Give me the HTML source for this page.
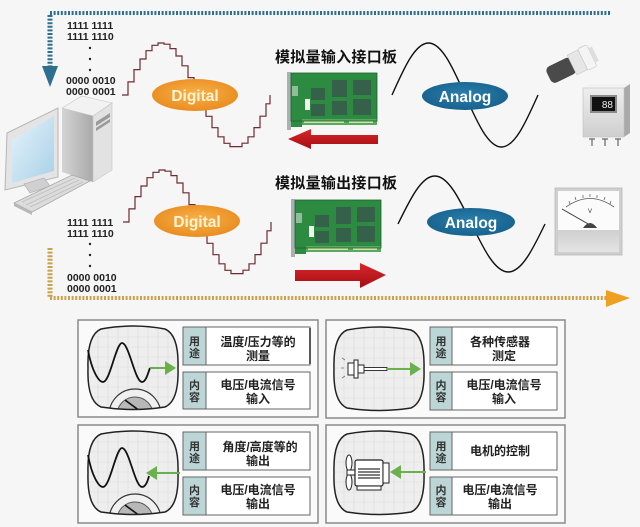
<!DOCTYPE html>
<html>
<head>
<meta charset="utf-8">
<style>
html,body{margin:0;padding:0;background:#f6f6f6;}
svg{display:block;}
text{font-family:"Liberation Sans","Noto Sans CJK SC",sans-serif;}
.cn{font-family:"Liberation Sans","Noto Sans CJK SC",sans-serif;font-weight:700;}
.bin{font-family:"Liberation Sans",sans-serif;font-size:10.5px;font-weight:700;fill:#222;}
</style>
</head>
<body>
<svg width="640" height="527" viewBox="0 0 640 527" xmlns="http://www.w3.org/2000/svg">
<defs>
  <radialGradient id="orange" cx="50%" cy="45%" r="60%">
    <stop offset="0" stop-color="#f7b24a"/>
    <stop offset="1" stop-color="#e8891c"/>
  </radialGradient>
  <radialGradient id="blue" cx="50%" cy="45%" r="60%">
    <stop offset="0" stop-color="#2a7fae"/>
    <stop offset="1" stop-color="#175f8a"/>
  </radialGradient>
  <linearGradient id="screen" x1="0" y1="0" x2="1" y2="1">
    <stop offset="0" stop-color="#e6f3fa"/>
    <stop offset="1" stop-color="#a8d0e8"/>
  </linearGradient>
  <linearGradient id="towerL" x1="0" y1="0" x2="1" y2="0">
    <stop offset="0" stop-color="#d4d4d4"/>
    <stop offset="1" stop-color="#a9a9a9"/>
  </linearGradient>
  <linearGradient id="boxG" x1="0" y1="0" x2="0" y2="1">
    <stop offset="0" stop-color="#eeeeee"/>
    <stop offset="1" stop-color="#cfcfcf"/>
  </linearGradient>
  <linearGradient id="redG" x1="0" y1="0" x2="0" y2="1">
    <stop offset="0" stop-color="#d8262b"/>
    <stop offset="1" stop-color="#a50f14"/>
  </linearGradient>
  <linearGradient id="meterG" x1="0" y1="0" x2="0" y2="1">
    <stop offset="0" stop-color="#cfcfcf"/>
    <stop offset="1" stop-color="#e4e4e4"/>
  </linearGradient>
  <path id="blob" d="M13,2 Q45,-4 77,2 Q91,8 90,41 Q91,74 77,80 Q45,85 13,80 Q-1,74 0,41 Q-1,8 13,2 Z"/>
  <clipPath id="blobClip"><use href="#blob"/></clipPath>
  <g id="pcb">
    <rect x="0" y="0" width="4" height="58" fill="#a8b0b0"/>
    <rect x="4" y="1" width="86" height="48" fill="#2c8a41"/>
    <rect x="15" y="47" width="75" height="6" fill="#5aa860"/>
    <rect x="17" y="49" width="40" height="2" fill="#cfe3a8"/>
    <rect x="62" y="49" width="24" height="2" fill="#cfe3a8"/>
    <rect x="4" y="49" width="11" height="6" fill="#2c8a41"/>
    <rect x="5" y="14" width="6" height="10" fill="#8fbf98"/>
    <rect x="24" y="16" width="14" height="12" fill="#35604a"/>
    <rect x="24" y="32" width="14" height="12" fill="#35604a"/>
    <rect x="45" y="8" width="15" height="17" fill="#35604a"/>
    <rect x="45" y="29" width="15" height="14" fill="#35604a"/>
    <rect x="66" y="8" width="18" height="15" fill="#35604a"/>
    <rect x="66" y="27" width="18" height="16" fill="#35604a"/>
    <rect x="18" y="27" width="5" height="11" fill="#eef5e8"/>
    <rect x="4" y="1" width="86" height="48" fill="none" stroke="#1c6330" stroke-width="0.8"/>
  </g>
  <g id="gauge">
    <circle cx="47" cy="88" r="26" fill="#f0f0f0" stroke="#333" stroke-width="1.2"/>
    <circle cx="47" cy="88" r="18" fill="#b8b8b8" stroke="#555" stroke-width="1"/>
    <line x1="37" y1="73" x2="52" y2="84" stroke="#111" stroke-width="1.6"/>
  </g>
  <g id="grid" stroke="#dcdcdc" stroke-width="0.6">
    <line x1="0" y1="10" x2="90" y2="10"/><line x1="0" y1="20" x2="90" y2="20"/>
    <line x1="0" y1="30" x2="90" y2="30"/><line x1="0" y1="40" x2="90" y2="40"/>
    <line x1="0" y1="50" x2="90" y2="50"/><line x1="0" y1="60" x2="90" y2="60"/>
    <line x1="0" y1="70" x2="90" y2="70"/>
    <line x1="10" y1="0" x2="10" y2="85"/><line x1="20" y1="0" x2="20" y2="85"/>
    <line x1="30" y1="0" x2="30" y2="85"/><line x1="40" y1="0" x2="40" y2="85"/>
    <line x1="50" y1="0" x2="50" y2="85"/><line x1="60" y1="0" x2="60" y2="85"/>
    <line x1="70" y1="0" x2="70" y2="85"/><line x1="80" y1="0" x2="80" y2="85"/>
  </g>
</defs>

<rect x="0" y="0" width="640" height="527" fill="#f6f6f6"/>

<!-- top teal dotted connector -->
<path d="M50,13 H610" stroke="#2c6f8f" stroke-width="4" stroke-dasharray="2 1.6" fill="none"/>
<path d="M50,15 V66" stroke="#2c6f8f" stroke-width="5" stroke-dasharray="2 1.6" fill="none"/>
<polygon points="42,66 58,66 50,87" fill="#2c6f8f"/>

<!-- bottom golden dotted connector -->
<path d="M50,248 V298" stroke="#c9a24a" stroke-width="5" stroke-dasharray="2 1.6" fill="none"/>
<path d="M50,298 H608" stroke="#c9a24a" stroke-width="4" stroke-dasharray="2 1.6" fill="none"/>
<polygon points="606,290 630,298 606,307" fill="#f0a020"/>

<!-- binary top -->
<text class="bin" x="67" y="29">1111 1111</text>
<text class="bin" x="67" y="40">1111 1110</text>
<circle cx="90" cy="48" r="1.2" fill="#222"/>
<circle cx="90" cy="59" r="1.2" fill="#222"/>
<circle cx="90" cy="70" r="1.2" fill="#222"/>
<text class="bin" x="66" y="84">0000 0010</text>
<text class="bin" x="66" y="95">0000 0001</text>

<!-- binary bottom -->
<text class="bin" x="67" y="226">1111 1111</text>
<text class="bin" x="67" y="237">1111 1110</text>
<circle cx="90" cy="244" r="1.2" fill="#222"/>
<circle cx="90" cy="255" r="1.2" fill="#222"/>
<circle cx="90" cy="266" r="1.2" fill="#222"/>
<text class="bin" x="67" y="281">0000 0010</text>
<text class="bin" x="67" y="292">0000 0001</text>

<!-- stair sine waves -->
<path id="stair" d="M122,95 H128 V81.9 H134 V69.6 H140 V59 H146 V50.7 H152 V45.3 H158 V43 H164 V44.2 H170 V48.6 H176 V56 H182 V65.8 H188 V77.6 H194 V90.6 H200 V103.8 H206 V116.3 H212 V127.7 H218 V136.8 H224 V143.3 H230 V146.6 H236 V146.6 H242 V143.2 H248 V136.8 H254 V127.6 H260 V116.2 H266 V103.8 H270 V95" fill="none" stroke="#6e2b33" stroke-width="1.2"/>
<use href="#stair" transform="translate(1,127)"/>

<!-- Digital ellipses -->
<ellipse cx="195" cy="95" rx="43" ry="16" fill="url(#orange)"/>
<text x="195" y="101" text-anchor="middle" font-size="15.5" font-weight="700" fill="#fff4d6">Digital</text>
<ellipse cx="197" cy="221" rx="43" ry="16" fill="url(#orange)"/>
<text x="197" y="227" text-anchor="middle" font-size="15.5" font-weight="700" fill="#fff4d6">Digital</text>

<!-- analog curves -->
<path d="M392,95 C404.2,67.7 415.2,43 428.5,43 C441.8,43 452.8,67.7 465,95 C477.2,122.3 488.2,147 501.5,147 C514.8,147 525.8,122.3 538,95" fill="none" stroke="#111" stroke-width="1.4"/>
<path d="M398,224 C410.3,198.8 421.5,176 434.8,176 C448.2,176 459.4,198.8 471.5,224 C483.8,249.2 495,272 508.3,272 C521.6,272 532.8,249.2 545,224" fill="none" stroke="#111" stroke-width="1.4"/>
<ellipse cx="465" cy="96" rx="43" ry="14" fill="url(#blue)"/>
<text x="465" y="102" text-anchor="middle" font-size="15.5" font-weight="700" fill="#ffffff">Analog</text>
<ellipse cx="471" cy="222" rx="44" ry="14" fill="url(#blue)"/>
<text x="471" y="228" text-anchor="middle" font-size="15.5" font-weight="700" fill="#ffffff">Analog</text>

<!-- Chinese labels -->
<text class="cn" x="275" y="62" font-size="15" fill="#111" textLength="122">模拟量输入接口板</text>
<text class="cn" x="275" y="188" font-size="15" fill="#111" textLength="122">模拟量输出接口板</text>

<!-- boards -->
<use href="#pcb" transform="translate(287,72)"/>
<use href="#pcb" transform="translate(291,199)"/>

<!-- red arrows -->
<polygon points="288,139 311,129 311,135 378,135 378,144 311,144 311,149" fill="url(#redG)"/>
<polygon points="295,270 360,270 360,263 386,275 360,288 360,281 295,281" fill="url(#redG)"/>

<!-- computer -->
<polygon points="7,133 58,108 58,177 5,190" fill="#e4e4e4" stroke="#b5b5b5" stroke-width="1"/>
<polygon points="12,140 54,116 54,171 12,183" fill="url(#screen)"/>
<polygon points="24,184 44,178 50,186 30,193" fill="#d0d0d0" stroke="#aaa" stroke-width="0.6"/>
<polygon points="62,108 82,96 112,103 93,116" fill="#f2f2f2" stroke="#c8c8c8" stroke-width="0.6"/>
<polygon points="62,108 93,116 93,182 62,172" fill="url(#towerL)"/>
<polygon points="93,116 112,103 112,170 93,182" fill="#e2e2e2" stroke="#c4c4c4" stroke-width="0.6"/>
<polygon points="96,122 110,113 110,117 96,126" fill="#9a9a9a"/>
<polygon points="96,128 110,119 110,122 96,131" fill="#9a9a9a"/>
<polygon points="14,203 72,175 90,181 32,212" fill="#dcdcdc" stroke="#a8a8a8" stroke-width="0.8"/>
<polygon points="14,203 32,212 32,215 14,206" fill="#b8b8b8"/>
<path d="M22,202 L75,178 M26,205 L79,180 M30,207 L83,182" stroke="#bdbdbd" stroke-width="0.8"/>

<!-- sensor -->
<g transform="translate(572,65) rotate(-26)">
  <rect x="-26" y="-9" width="28" height="18" rx="5" fill="#4a4a4a"/>
  <rect x="0" y="-11" width="12" height="22" fill="#e6e6e6" stroke="#c6c6c6" stroke-width="0.6"/>
  <rect x="12" y="-12" width="10" height="24" rx="2" fill="#f4f4f4" stroke="#c6c6c6" stroke-width="0.6"/>
  <rect x="22" y="-8" width="4" height="16" fill="#dedede"/>
</g>

<!-- box device -->
<polygon points="583,88 589,84 630,84 624,88" fill="#f2f2f2"/>
<polygon points="624,88 630,84 630,133 624,137" fill="#a9a9a9"/>
<rect x="583" y="88" width="41" height="49" fill="url(#boxG)" stroke="#c0c0c0" stroke-width="0.6"/>
<rect x="590" y="95" width="27" height="18" fill="#8a8a8a"/>
<rect x="592" y="97" width="23" height="14" fill="#111"/>
<text x="613" y="108" text-anchor="end" font-size="10" fill="#f0f0f0">88</text>
<path d="M589,139 H595 M592,139 V146 M602,139 H608 M605,139 V146 M615,139 H621 M618,139 V146" stroke="#666" stroke-width="1.2"/>

<!-- meter -->
<rect x="555" y="188" width="67" height="67" fill="#cfcfcf" stroke="#b8b8b8" stroke-width="0.8"/>
<rect x="558" y="191" width="61" height="39" fill="#fbfbfb"/>
<rect x="558" y="230" width="61" height="22" fill="url(#meterG)"/>
<path d="M566,207 Q590,190 614,207" fill="none" stroke="#555" stroke-width="0.8"/>
<path d="M570,204 l-1,-3 M576,200 l-1,-3 M583,198 l0,-3 M590,197 l0,-3 M597,198 l0,-3 M604,200 l1,-3 M610,204 l1,-3" stroke="#555" stroke-width="0.7"/>
<text x="590" y="213" text-anchor="middle" font-size="6" fill="#333">V</text>
<line x1="562" y1="209" x2="590" y2="225" stroke="#333" stroke-width="1"/>
<path d="M583,228 Q590,218 597,228 Z" fill="#444"/>

<!-- ===== Panels ===== -->
<g fill="#fafafa" stroke="#8a8a8a" stroke-width="1.5">
  <rect x="78" y="320" width="240" height="97"/>
  <rect x="326" y="320" width="239" height="98"/>
  <rect x="78" y="425" width="240" height="98"/>
  <rect x="326" y="425" width="239" height="98"/>
</g>

<!-- panel 1 blob -->
<g transform="translate(88,327)">
  <use href="#blob" fill="#eeeeee"/>
  <g clip-path="url(#blobClip)"><use href="#grid"/><use href="#gauge"/></g>
  <use href="#blob" fill="none" stroke="#222" stroke-width="1.5"/>
  <path d="M0,23 C4,45 11,55 15,55 C22,55 28,16 34,16 C41,16 47,55 54,55 C58,55 60,46 62,41" fill="none" stroke="#111" stroke-width="1.8"/>
  <line x1="62" y1="41" x2="80" y2="41" stroke="#6ab04c" stroke-width="2"/>
  <polygon points="77,34 88,41 77,48" fill="#6ab04c"/>
</g>
<!-- panel 3 blob -->
<g transform="translate(88,432)">
  <use href="#blob" fill="#eeeeee"/>
  <g clip-path="url(#blobClip)"><use href="#grid"/><use href="#gauge"/></g>
  <use href="#blob" fill="none" stroke="#222" stroke-width="1.5"/>
  <path d="M0,23 C4,45 11,55 15,55 C22,55 28,16 34,16 C41,16 47,55 54,55 C58,55 60,48 61,44" fill="none" stroke="#111" stroke-width="1.8"/>
  <line x1="66" y1="41" x2="92" y2="41" stroke="#6ab04c" stroke-width="2"/>
  <polygon points="69,34 58,41 69,48" fill="#6ab04c"/>
</g>
<!-- panel 2 blob -->
<g transform="translate(334,328)">
  <use href="#blob" fill="#eeeeee"/>
  <g clip-path="url(#blobClip)"><use href="#grid"/></g>
  <use href="#blob" fill="none" stroke="#222" stroke-width="1.5"/>
  <path d="M8,30 l3,2 M8,50 l3,-2 M7,40 h3" stroke="#777" stroke-width="0.8"/>
  <rect x="14" y="35" width="6" height="12" fill="#fff" stroke="#222" stroke-width="1"/>
  <rect x="20" y="32" width="4" height="18" fill="#fff" stroke="#222" stroke-width="1"/>
  <rect x="24" y="37" width="6" height="8" fill="#fff" stroke="#222" stroke-width="1"/>
  <rect x="30" y="39.5" width="23" height="3" fill="#fff" stroke="#222" stroke-width="0.9"/>
  <line x1="53" y1="41" x2="78" y2="41" stroke="#6ab04c" stroke-width="2"/>
  <polygon points="76,34 87,41 76,48" fill="#6ab04c"/>
</g>
<!-- panel 4 blob -->
<g transform="translate(334,432)">
  <use href="#blob" fill="#eeeeee"/>
  <g clip-path="url(#blobClip)"><use href="#grid"/></g>
  <use href="#blob" fill="none" stroke="#222" stroke-width="1.5"/>
  <ellipse cx="15" cy="31" rx="3" ry="8" fill="#fff" stroke="#222" stroke-width="1"/>
  <ellipse cx="15" cy="50" rx="3" ry="8" fill="#fff" stroke="#222" stroke-width="1"/>
  <rect x="13" y="38" width="8" height="5" fill="#fff" stroke="#222" stroke-width="1"/>
  <rect x="21" y="28" width="28" height="26" rx="2" fill="#fff" stroke="#222" stroke-width="1.2"/>
  <rect x="49" y="31" width="6" height="20" fill="#fff" stroke="#222" stroke-width="1"/>
  <path d="M24,37 H46 M24,40 H46 M24,43 H46 M24,46 H46" stroke="#333" stroke-width="1.2"/>
  <rect x="23" y="54" width="24" height="4" fill="#fff" stroke="#222" stroke-width="1"/>
  <line x1="64" y1="40" x2="92" y2="40" stroke="#6ab04c" stroke-width="2"/>
  <polygon points="67,33 56,40 67,47" fill="#6ab04c"/>
</g>

<!-- tables -->
<g stroke="#666" stroke-width="1">
  <rect x="183" y="327" width="23" height="38" fill="#bcd5d6"/>
  <rect x="206" y="327" width="104" height="38" fill="#ffffff"/>
  <rect x="183" y="372" width="23" height="37" fill="#bcd5d6"/>
  <rect x="206" y="372" width="104" height="37" fill="#ffffff"/>

  <rect x="430" y="327" width="22" height="38" fill="#bcd5d6"/>
  <rect x="452" y="327" width="105" height="38" fill="#ffffff"/>
  <rect x="430" y="372" width="22" height="38" fill="#bcd5d6"/>
  <rect x="452" y="372" width="105" height="38" fill="#ffffff"/>

  <rect x="183" y="432" width="23" height="38" fill="#bcd5d6"/>
  <rect x="206" y="432" width="104" height="38" fill="#ffffff"/>
  <rect x="183" y="477" width="23" height="38" fill="#bcd5d6"/>
  <rect x="206" y="477" width="104" height="38" fill="#ffffff"/>

  <rect x="430" y="432" width="22" height="38" fill="#bcd5d6"/>
  <rect x="452" y="432" width="105" height="38" fill="#ffffff"/>
  <rect x="430" y="477" width="22" height="38" fill="#bcd5d6"/>
  <rect x="452" y="477" width="105" height="38" fill="#ffffff"/>
</g>
<line x1="310" y1="328" x2="310" y2="364" stroke="#222" stroke-width="1.5"/>

<g class="cn" font-size="11" fill="#333" text-anchor="middle">
  <text x="194.5" y="345">用</text><text x="194.5" y="357">途</text>
  <text x="194.5" y="389">内</text><text x="194.5" y="401">容</text>
  <text x="441" y="345">用</text><text x="441" y="357">途</text>
  <text x="441" y="389">内</text><text x="441" y="401">容</text>
  <text x="194.5" y="450">用</text><text x="194.5" y="462">途</text>
  <text x="194.5" y="494">内</text><text x="194.5" y="506">容</text>
  <text x="441" y="450">用</text><text x="441" y="462">途</text>
  <text x="441" y="494">内</text><text x="441" y="506">容</text>
</g>

<g class="cn" font-size="12" fill="#222" text-anchor="middle">
  <text x="258" y="346">温度/压力等的</text>
  <text x="258" y="360">测量</text>
  <text x="258" y="389">电压/电流信号</text>
  <text x="258" y="403">输入</text>

  <text x="500" y="346">各种传感器</text>
  <text x="504" y="360">测定</text>
  <text x="504" y="389">电压/电流信号</text>
  <text x="504" y="403">输入</text>

  <text x="260" y="451">角度/高度等的</text>
  <text x="258" y="465">输出</text>
  <text x="258" y="494">电压/电流信号</text>
  <text x="258" y="508">输出</text>

  <text x="500" y="455">电机的控制</text>
  <text x="500" y="494">电压/电流信号</text>
  <text x="500" y="508">输出</text>
</g>
</svg>
</body>
</html>
